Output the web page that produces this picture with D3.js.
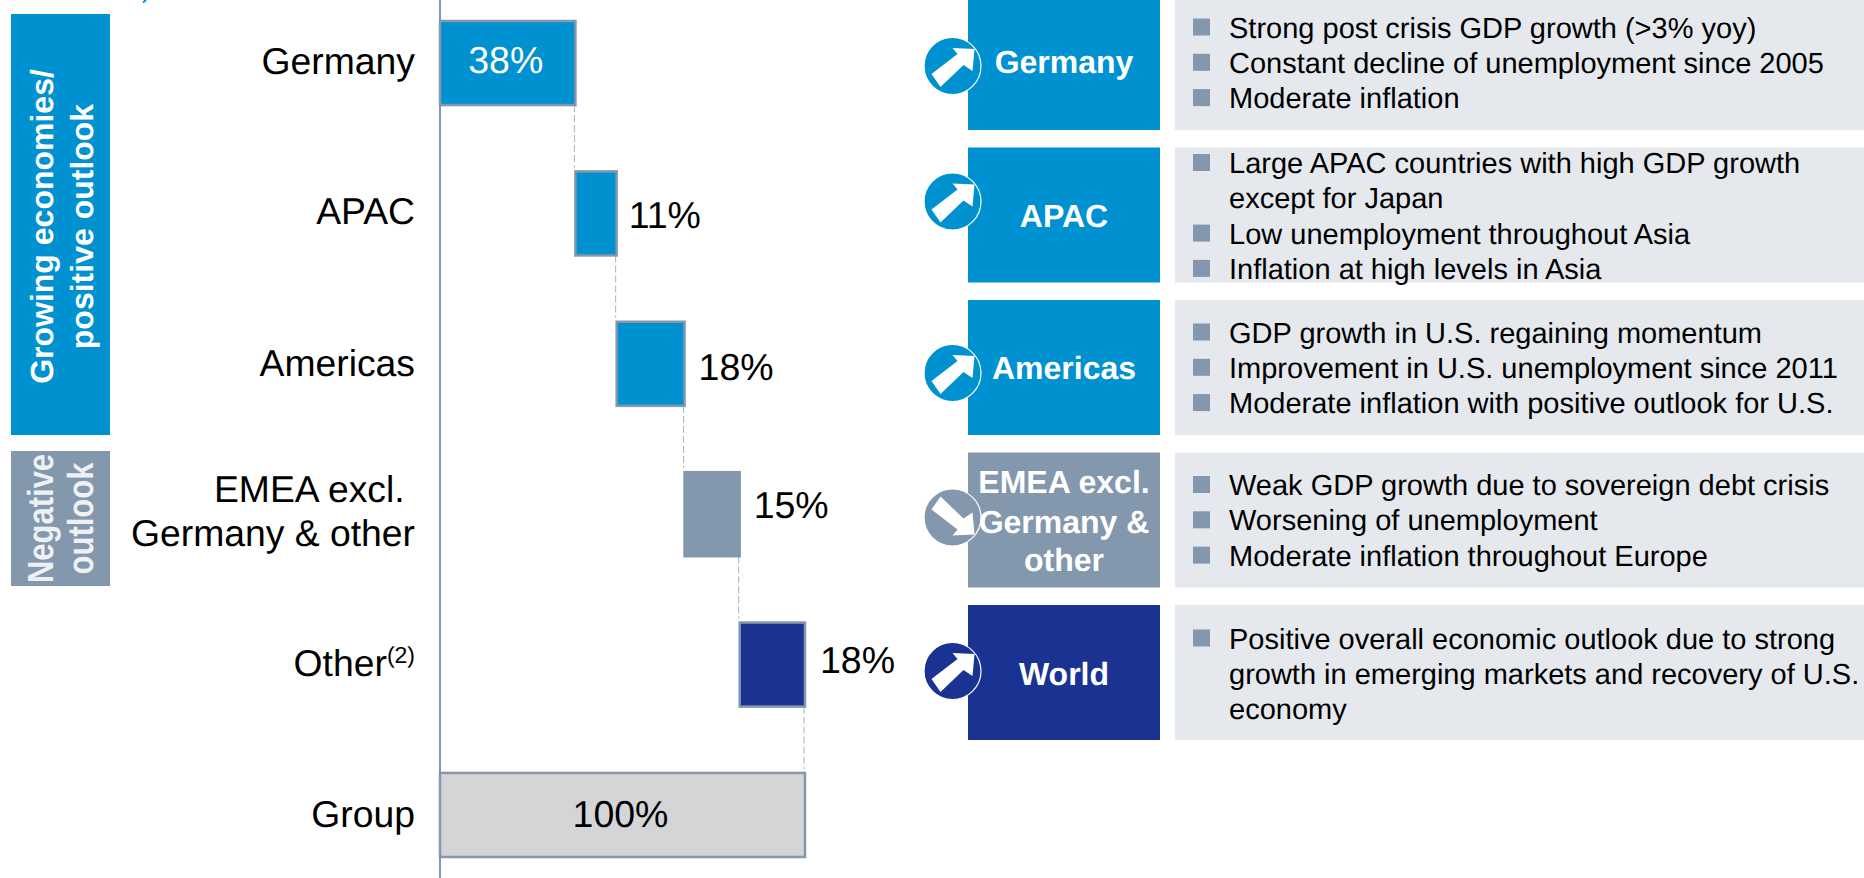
<!DOCTYPE html>
<html>
<head>
<meta charset="utf-8">
<script src="https://cdn.jsdelivr.net/npm/d3@7"></script>
<style>
    html, body { margin: 0; padding: 0; background: #fff; overflow: hidden; }
    text { font-family: "Liberation Sans", Arial, sans-serif; text-rendering: geometricPrecision; }
</style>
</head>
<body>
<div id="vis"></div>
<script>
// chart data
var categories = ['Germany', 'APAC', 'Americas', 'EMEA', 'Other', 'Group'];
var categoryLines = [['Germany'], ['APAC'], ['Americas'], ['EMEA excl. ', 'Germany & other'], ['Other'], ['Group']];
var barValues = [37.1, 11.3, 18.6, 15.1, 17.9];
var totalValue = 100;
var valueLabels = ['38%', '11%', '18%', '15%', '18%', '100%'];

var bandLines = [['Growing economies/', 'positive outlook'], ['Negative', 'outlook']];
var panelNames = ['Germany', 'APAC', 'Americas', 'EMEA', 'World'];
var panelTitles = [['Germany'], ['APAC'], ['Americas'], ['EMEA excl.', 'Germany &', 'other'], ['World']];
var panelUp = [true, true, true, false, true];
var panelBullets = [
    [['Strong post crisis GDP growth (>3% yoy)'], ['Constant decline of unemployment since 2005'], ['Moderate inflation']],
    [['Large APAC countries with high GDP growth', 'except for Japan'], ['Low unemployment throughout Asia'], ['Inflation at high levels in Asia']],
    [['GDP growth in U.S. regaining momentum'], ['Improvement in U.S. unemployment since 2011'], ['Moderate inflation with positive outlook for U.S.']],
    [['Weak GDP growth due to sovereign debt crisis'], ['Worsening of unemployment'], ['Moderate inflation throughout Europe']],
    [['Positive overall economic outlook due to strong', 'growth in emerging markets and recovery of U.S.', 'economy']]
];

var blue = '#0091d1', slate = '#8397ad', navy = '#1a3291', pale = '#e5e8ed', groupGrey = '#d4d5d7';
var barColors = [blue, blue, blue, slate, navy, groupGrey];
var panelColors = [blue, blue, blue, slate, navy];

var width = 1864, height = 878;

var svg = d3.select('#vis').append('svg')
            .attr('width', width)
            .attr('height', height);

var xScale = d3.scaleLinear().domain([0, totalValue]).range([440, 805]);
var yScale = d3.scaleBand().domain(categories).range([21, 857]).paddingInner(0.441);
var panelScale = d3.scaleBand().domain(panelNames).range([-5, 740]).paddingInner(0.1148);

// stacked start and end of each step
var running = 0;
var steps = barValues.map((v) => {
    var s = {start: running, end: running + v};
    running += v;
    return s;
});
steps.push({start: 0, end: totalValue});

// left bands, the lower one uses a stretched face in the original
var bandBoxes = [{y: 14, h: 421, fill: blue, size: 32, stretch: 1}, {y: 451, h: 135, fill: slate, size: 31, stretch: 1.17}];
bandBoxes.forEach((b, i) => {
    svg.append('rect').attr('x', 11).attr('y', b.y).attr('width', 99).attr('height', b.h).attr('fill', b.fill);
    bandLines[i].forEach((line, j) => {
        svg.append('text')
           .attr('transform', `translate(${53 + j * 40},${b.y + b.h / 2 + (i == 0 ? 2 : 0)}) rotate(-90) scale(1,${b.stretch})`)
           .attr('text-anchor', 'middle')
           .attr('font-weight', 'bold')
           .attr('font-size', b.size)
           .attr('fill', i == 0 ? '#fff' : '#eef1f4')
           .text(line);
    });
});

// scrap of the cut off title at the very top
svg.append('line').attr('x1', 146).attr('y1', 0).attr('x2', 143).attr('y2', 2.5)
   .attr('stroke', blue).attr('stroke-width', 2);

// dashed connectors between the steps
svg.selectAll('line.connector')
   .data(steps.slice(0, 5))
   .enter().append('line')
   .attr('class', 'connector')
   .attr('x1', (d) => xScale(d.end) - 1)
   .attr('x2', (d) => xScale(d.end) - 1)
   .attr('y1', (d, i) => yScale(categories[i]) + yScale.bandwidth())
   .attr('y2', (d, i) => yScale(categories[i + 1]) - 4)
   .attr('stroke', '#a3b3c3')
   .attr('stroke-width', 1)
   .attr('stroke-dasharray', '7,3');

// bars
svg.selectAll('rect.bar')
   .data(steps)
   .enter().append('rect')
   .attr('class', 'bar')
   .attr('x', (d) => xScale(d.start))
   .attr('y', (d, i) => yScale(categories[i]))
   .attr('width', (d) => xScale(d.end) - xScale(d.start))
   .attr('height', yScale.bandwidth())
   .attr('fill', (d, i) => barColors[i])
   .attr('stroke', slate)
   .attr('stroke-width', 2.5);

// vertical axis line
svg.append('line').attr('x1', 440).attr('x2', 440).attr('y1', 0).attr('y2', height)
   .attr('stroke', slate).attr('stroke-width', 2);

// category labels
var categoryBase = [73.5, 224, 376, 502, 676, 827];
categories.forEach((c, i) => {
    categoryLines[i].forEach((line, j) => {
        var t = svg.append('text')
                   .attr('x', 415)
                   .attr('y', categoryBase[i] + j * 44)
                   .attr('text-anchor', 'end')
                   .attr('font-size', 37.3)
                   .attr('fill', '#000')
                   .style('white-space', 'pre')
                   .text(line);
        if (c == 'Other') {
            t.append('tspan').attr('font-size', 23).attr('dy', -13).text('(2)');
        }
    });
});

// value labels
var valueBase = [73, 228, 380, 518, 673, 827];
var valueGap = [0, 12, 14, 14, 15, 0];
valueLabels.forEach((label, i) => {
    var inside = i == 0 || i == 5;
    svg.append('text')
       .attr('x', inside ? (xScale(steps[i].start) + xScale(steps[i].end)) / 2 - 2 : xScale(steps[i].end) + valueGap[i])
       .attr('y', valueBase[i])
       .attr('text-anchor', inside ? 'middle' : 'start')
       .attr('font-size', 37.5)
       .attr('fill', i == 0 ? '#fff' : '#000')
       .text(label);
});

// right hand panels
var titleBase = [[78], [79], [79], [40, 80, 118], [80]];
var firstLine = [42.5, 25.5, 42.5, 42.5, 43.5];
var circleY = [71, 54, 73, 65, 66];
var lineStep = 35.3;

panelNames.forEach((name, i) => {
    var top = panelScale(name);
    var g = svg.append('g').attr('transform', `translate(0,${top})`);

    g.append('rect').attr('x', 1175).attr('y', 0).attr('width', width - 1175)
     .attr('height', panelScale.bandwidth()).attr('fill', pale);
    g.append('rect').attr('x', 968).attr('y', 0).attr('width', 192)
     .attr('height', panelScale.bandwidth()).attr('fill', panelColors[i]);

    panelTitles[i].forEach((line, j) => {
        g.append('text')
         .attr('x', 1064)
         .attr('y', titleBase[i][j])
         .attr('text-anchor', 'middle')
         .attr('font-weight', 'bold')
         .attr('font-size', 32)
         .attr('fill', '#fff')
         .text(line);
    });

    // direction arrow in its circle
    var badge = g.append('g').attr('transform', `translate(952.5,${circleY[i]}) scale(1,${panelUp[i] ? 1 : -1})`);
    badge.append('circle').attr('r', 28.5)
         .attr('fill', panelColors[i]).attr('stroke', '#fff').attr('stroke-width', 1.2);
    badge.append('path')
         .attr('d', 'M22,-17 L0,-18 L5,-12 L-21,8 L-12,21 L11,-1 L20,5 Z')
         .attr('fill', '#fff');

    // bullets
    var row = 0;
    panelBullets[i].forEach((bullet) => {
        bullet.forEach((line, k) => {
            var base = firstLine[i] + row * lineStep;
            if (k == 0) {
                g.append('rect').attr('x', 1193).attr('y', base - 19).attr('width', 17).attr('height', 17)
                 .attr('fill', slate);
            }
            g.append('text').attr('x', 1229).attr('y', base)
             .attr('font-size', 29).attr('fill', '#000').text(line);
            row++;
        });
    });
});
</script>
</body>
</html>
